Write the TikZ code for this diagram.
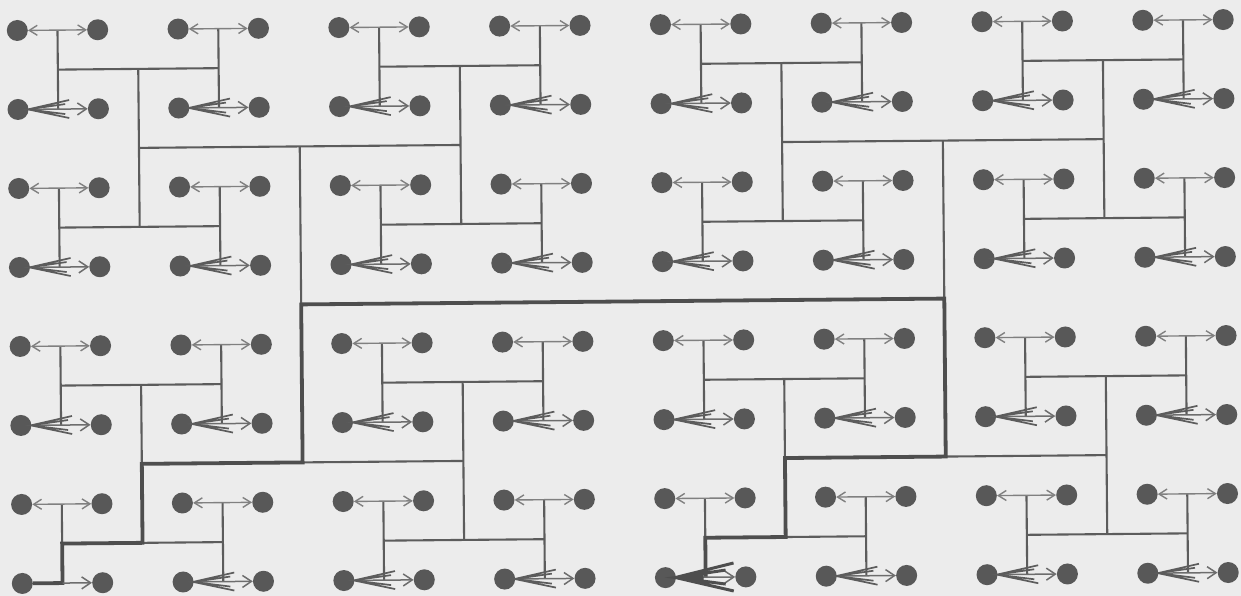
\documentclass[tikz,border=0pt]{standalone}
\usetikzlibrary{arrows.meta}
\definecolor{bg}{RGB}{236,236,236}
\definecolor{ink}{RGB}{88,88,88}
\definecolor{lineink}{RGB}{92,92,92}
\definecolor{arrink}{RGB}{128,128,128}
\tikzset{
  dot/.style={circle,fill=ink,draw=none,minimum size=21pt,inner sep=0pt},
  tree/.style={draw=lineink,line width=2.1pt},
  fat/.style={draw=lineink!85!black,line width=3.8pt,line join=miter},
  toparrow/.style={draw=arrink,line width=1.4pt,{Straight Barb[length=8pt,width=10pt]}-{Straight Barb[length=8pt,width=10pt]}},
  botarrow/.style={draw=arrink!85!black,line width=1.5pt,-{Straight Barb[length=9pt,width=12pt]}},
  fanline/.style={draw=lineink,line width=1.7pt},
  bigfan/.style={draw=lineink!85!black,line width=3pt},
}
\begin{document}
\begin{tikzpicture}[x=1pt,y=-1pt]
\fill[bg] (0,0) rectangle (1241,596);
\useasboundingbox (0,0) rectangle (1241,596);
\begin{scope}[rotate around={0.52:(622.75,301.5)}]
\def\XO{19.75}\def\SX{80.4}\def\YO{25}\def\SY{79}
% pair midpoints
\foreach \i in {0,...,7}{
  \foreach \pk in {0,...,7}{
    \coordinate (m-\i-\pk) at ({\XO+(2*\pk+0.5)*\SX},{\YO+\i*\SY});
  }
}
% level-2 junctions
\foreach \rw in {0,...,3}{
  \foreach \pk in {0,...,7}{
    \coordinate (a-\rw-\pk) at ({\XO+(2*\pk+0.5)*\SX},{\YO+(2*\rw+0.5)*\SY});
  }
}
% level-3 junctions
\foreach \rw in {0,...,3}{
  \foreach \mc in {0,...,3}{
    \coordinate (b-\rw-\mc) at ({\XO+(4*\mc+1.5)*\SX},{\YO+(2*\rw+0.5)*\SY});
  }
}
% level-4 junctions
\foreach \sb in {0,1}{
  \foreach \mc in {0,...,3}{
    \coordinate (c-\sb-\mc) at ({\XO+(4*\mc+1.5)*\SX},{\YO+(4*\sb+1.5)*\SY});
  }
}
% level-5 junctions
\foreach \sb in {0,1}{
  \foreach \tb in {0,1}{
    \coordinate (e-\sb-\tb) at ({\XO+(8*\tb+3.5)*\SX},{\YO+(4*\sb+1.5)*\SY});
  }
}
% root
\foreach \tb in {0,1}{
  \coordinate (f-\tb) at ({\XO+(8*\tb+3.5)*\SX},{\YO+3.5*\SY});
}
% tree lines
\foreach \rw in {0,...,3}{
  \pgfmathtruncatemacro\ti{2*\rw}
  \pgfmathtruncatemacro\bi{2*\rw+1}
  \foreach \pk in {0,...,7}{
    \draw[tree] (m-\ti-\pk) -- (m-\bi-\pk);
  }
  \foreach \mc in {0,...,3}{
    \pgfmathtruncatemacro\la{2*\mc}
    \pgfmathtruncatemacro\lb{2*\mc+1}
    \draw[tree] (a-\rw-\la) -- (a-\rw-\lb);
  }
}
\foreach \sb in {0,1}{
  \pgfmathtruncatemacro\la{2*\sb}
  \pgfmathtruncatemacro\lb{2*\sb+1}
  \foreach \mc in {0,...,3}{
    \draw[tree] (b-\la-\mc) -- (b-\lb-\mc);
  }
  \foreach \tb in {0,1}{
    \pgfmathtruncatemacro\ca{2*\tb}
    \pgfmathtruncatemacro\cb{2*\tb+1}
    \draw[tree] (c-\sb-\ca) -- (c-\sb-\cb);
  }
}
\foreach \tb in {0,1}{
  \draw[tree] (e-0-\tb) -- (e-1-\tb);
}
\draw[tree] (f-0) -- (f-1);
% dots
\foreach \i in {0,...,7}{
  \foreach \j in {0,...,15}{
    \node[dot] (d-\i-\j) at ({\XO+\j*\SX},{\YO+\i*\SY}) {};
  }
}
% highlighted path
\draw[fat] (d-7-0) -- (m-7-0) -- (a-3-0) -- (b-3-0) -- (c-1-0) -- (e-1-0) -- (f-0)
  -- (f-1) -- (e-1-1) -- (c-1-2) -- (b-3-2) -- (a-3-4) -- (m-7-4);
% arrows
\foreach \rw in {0,...,3}{
  \pgfmathtruncatemacro\ti{2*\rw}
  \pgfmathtruncatemacro\bi{2*\rw+1}
  \foreach \pk in {0,...,7}{
    \pgfmathtruncatemacro\lj{2*\pk}
    \pgfmathtruncatemacro\rj{2*\pk+1}
    \draw[toparrow] (d-\ti-\lj) -- (d-\ti-\rj);
    \pgfmathsetmacro\xl{\XO+\lj*\SX+10}
    \pgfmathsetmacro\xm{\XO+(\lj+0.5)*\SX}
    \pgfmathsetmacro\yy{\YO+\bi*\SY}
    \pgfmathtruncatemacro\fancase{(\bi==7)*((\pk==0)*1+(\pk==4)*2)}
    \ifcase\fancase
      \draw[botarrow] (d-\bi-\lj) -- (d-\bi-\rj);
      \draw[fanline] ({\xm+11},{\yy-9}) -- (\xl,\yy) -- ({\xm+11},{\yy+9})
        ({\xm+7},{\yy-5}) -- (\xl,\yy) -- ({\xm+7},{\yy+5});
    \or
      \draw[botarrow] (m-7-0) -- (d-7-1);
    \or
      \draw[botarrow] (d-\bi-\lj) -- (d-\bi-\rj);
      \fill[lineink!85!black] (\xl,\yy) -- ({\xm-2},{\yy-5}) -- ({\xm-2},{\yy+5}) -- cycle;
      \draw[bigfan] ({\xm+28},{\yy-14}) -- (\xl,\yy) -- ({\xm+28},{\yy+14})
        ({\xm+20},{\yy-7}) -- (\xl,\yy) -- ({\xm+20},{\yy+7});
    \fi
  }
}
\end{scope}
\end{tikzpicture}
\end{document}
